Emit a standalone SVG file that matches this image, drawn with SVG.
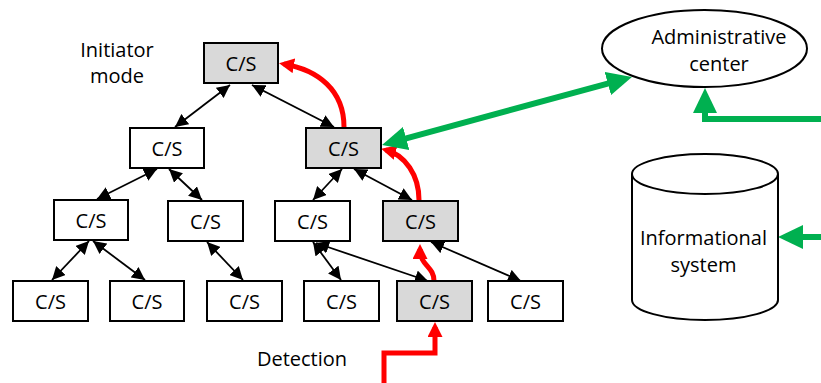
<svg xmlns="http://www.w3.org/2000/svg" width="821" height="383" viewBox="0 0 821 383">
<defs>
<style>
.box{stroke:#000;stroke-width:2}
.w{fill:#fff}
.g{fill:#d9d9d9}
text{font-family:"Open Sans","Liberation Sans",sans-serif;font-size:20px;fill:#000;text-anchor:middle}
.bk{stroke:#000;stroke-width:1.8;fill:none;marker-start:url(#ab);marker-end:url(#ab)}
.rd{stroke:#ff0000;stroke-width:5;fill:none;marker-end:url(#ar)}
.gn{stroke:#00b050;stroke-width:6;fill:none;marker-end:url(#ag)}
</style>
<marker id="ab" viewBox="0 0 13 13" markerWidth="13" markerHeight="13" refX="13" refY="6.5" markerUnits="userSpaceOnUse" orient="auto-start-reverse">
<path d="M0,0 L13,6.5 L0,13 Z" fill="#000"/>
</marker>
<marker id="ar" viewBox="0 0 15 15" markerWidth="15" markerHeight="15" refX="10" refY="7.5" markerUnits="userSpaceOnUse" orient="auto">
<path d="M0,0 L15,7.5 L0,15 Z" fill="#ff0000"/>
</marker>
<marker id="ag" viewBox="0 0 25 24" markerWidth="25" markerHeight="24" refX="18" refY="12" markerUnits="userSpaceOnUse" orient="auto-start-reverse">
<path d="M0,0 L25,12 L0,24 Z" fill="#00b050"/>
</marker>
</defs>

<g id="connectors">
<path class="bk" d="M230,85 L175,127"/>
<path class="bk" d="M252,85 L334,127"/>
<path class="bk" d="M157,169 L97,199"/>
<path class="bk" d="M169,169 L202,200"/>
<path class="bk" d="M342,169 L313,200"/>
<path class="bk" d="M354,169 L412,200"/>
<path class="bk" d="M89,241 L52,280"/>
<path class="bk" d="M93,241 L145,280"/>
<path class="bk" d="M207,242 L243,280"/>
<path class="bk" d="M313,242 L341,280"/>
<path class="bk" d="M316,243 L428,281"/>
<path class="bk" d="M431,242 L521,281"/>
<path class="rd" d="M344,127 C344,90 318,70 284,64"/>
<path class="rd" d="M419,200 C419,175 405,155 386,150"/>
<path class="rd" d="M434,281 C434,266 420,266 420,249"/>
<path class="rd" d="M384,383 V353 H435 V327" stroke-linejoin="miter"/>
<path class="gn" d="M388.8,143.2 L625.2,78.8" marker-start="url(#ag)"/>
<path class="gn" d="M821,119 H705 V95"/>
<path class="gn" d="M821,237 H785"/>
</g>

<g id="initiator-label">
<text x="117" y="57">Initiator</text>
<text x="117" y="83">mode</text>
</g>
<g id="detection-label">
<text x="302" y="366">Detection</text>
</g>

<g id="n0"><rect class="box g" x="204" y="43" width="74" height="40"/><text x="241" y="71">C/S</text></g>
<g id="n1"><rect class="box w" x="130" y="128" width="74" height="40"/><text x="167" y="156">C/S</text></g>
<g id="n2"><rect class="box g" x="306" y="128" width="75" height="40"/><text x="343.5" y="156">C/S</text></g>
<g id="n3"><rect class="box w" x="54" y="200" width="74" height="40"/><text x="91" y="228">C/S</text></g>
<g id="n4"><rect class="box w" x="168" y="201" width="75" height="40"/><text x="205.5" y="229">C/S</text></g>
<g id="n5"><rect class="box w" x="275" y="201" width="75" height="40"/><text x="312.5" y="229">C/S</text></g>
<g id="n6"><rect class="box g" x="383" y="201" width="75" height="40"/><text x="420.5" y="229">C/S</text></g>
<g id="n7"><rect class="box w" x="13" y="281" width="75" height="40"/><text x="50.5" y="309">C/S</text></g>
<g id="n8"><rect class="box w" x="110" y="281" width="74" height="40"/><text x="147" y="309">C/S</text></g>
<g id="n9"><rect class="box w" x="207" y="281" width="75" height="40"/><text x="244.5" y="309">C/S</text></g>
<g id="n10"><rect class="box w" x="304" y="281" width="75" height="40"/><text x="341.5" y="309">C/S</text></g>
<g id="n11"><rect class="box g" x="397" y="281" width="75" height="40"/><text x="434.5" y="309">C/S</text></g>
<g id="n12"><rect class="box w" x="488" y="281" width="75" height="40"/><text x="525.5" y="309">C/S</text></g>

<g id="admin">
<ellipse cx="704.5" cy="48.5" rx="102.5" ry="38.5" fill="#fff" stroke="#000" stroke-width="2"/>
<text x="719" y="44">Administrative</text>
<text x="719" y="71">center</text>
</g>

<g id="info">
<path d="M632,174 L632,300 A73,20 0 0 0 778,300 L778,174 A73,20 0 0 0 632,174 Z" fill="#fff" stroke="#000" stroke-width="2"/>
<path d="M632,174 A73,20 0 0 0 778,174" fill="none" stroke="#000" stroke-width="2"/>
<text x="703.5" y="245">Informational</text>
<text x="703.5" y="272">system</text>
</g>
</svg>
